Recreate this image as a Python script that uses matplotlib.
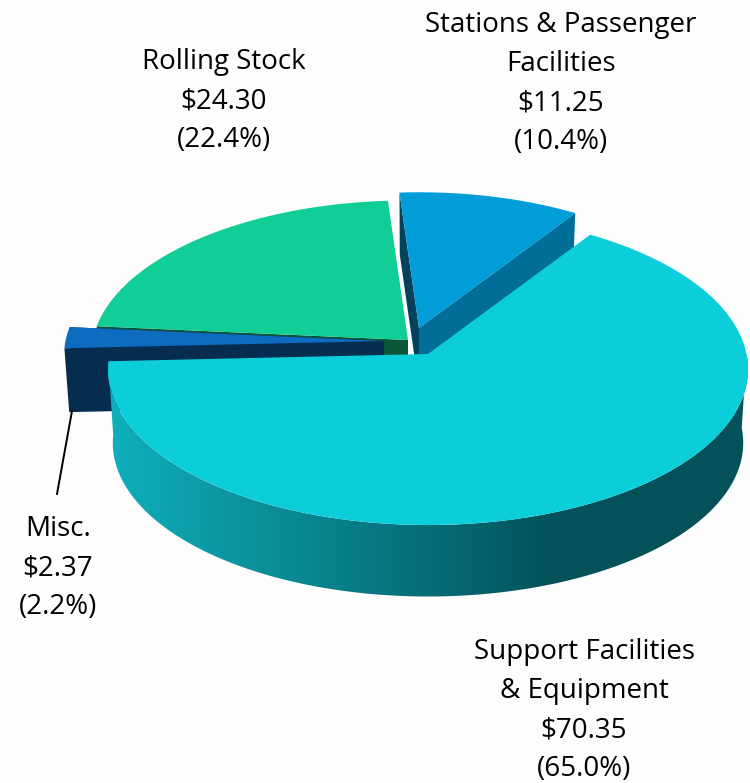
import numpy as np
from matplotlib import pyplot as plt
from matplotlib.patches import Polygon
from matplotlib.colors import to_rgb

# Дані
names = ['Stations & Passenger\nFacilities', 'Support Facilities\n& Equipment', 'Misc.', 'Rolling Stock']
values = [11.25, 70.35, 2.37, 24.30]
percents = [10.4, 65.0, 2.2, 22.4]
start_angle = 94.0

# Розміщення
center_x, center_y = 428, 354
A, B, k = 318.5, 154.5, 0.0968
bottom_scale = 0.985
offsets = [(-9, -26), (0, 0), (-44, -13), (-20, -14)]
radii = [0.96, 1.0, 1.0, 0.99]
depths = [60, 74, 64, 60]
top_colors = ['#009DD9', '#0CCEDA', '#0D6BC0', '#11CE96']
face_colors = ['#006E96', '#0CCEDA', '#062C50', '#0A5638']
back_colors = ['#04425C', '#0CCEDA', '#062C50', '#0A5638']
label_x = [561, 584, 58, 224]
label_y = [25, 652, 529, 62]
leader = ([72, 57], [411, 494])


# Точка на колі з перспективою
def project(angle, i, r=1.0, lower=False):
	a = np.radians(angle)
	x, y = r * radii[i] * np.cos(a), r * radii[i] * np.sin(a)
	w = 1 + k * y
	s = bottom_scale if lower else 1.0
	d = depths[i] if lower else 0
	return np.column_stack([center_x + offsets[i][0] + s * A * x / w, center_y + offsets[i][1] - s * B * y / w + d])


def top_poly(a0, a1, i):
	arc = project(np.linspace(a0, a1, 80), i)
	return np.vstack([project(np.array([0.0]), i, r=0.0), arc])


def face_poly(angle, i):
	an = np.array([angle])
	return np.vstack([project(an, i, r=0.0), project(an, i), project(an, i, lower=True), project(an, i, r=0.0, lower=True)])


def rim_color(x):
	left, right = np.array(to_rgb('#0EB0BC')), np.array(to_rgb('#03525A'))
	t = np.clip((x - 107) / (553 - 107), 0, 1)
	return left[None, :] + (right - left)[None, :] * t[:, None]


fig = plt.figure(figsize=(7.5, 7.83), dpi=100, facecolor='#FDFDFD')
ax = fig.add_axes([0, 0, 1, 1])
ax.axis('off')

# Кути секторів за годинниковою стрілкою
total = sum(values)
spans = [v / total * 360 for v in values]
starts = [start_angle - sum(spans[:i]) for i in range(len(values))]
ends = [s - d for s, d in zip(starts, spans)]
st, big, misc, roll = 0, 1, 2, 3

# Задні сектори
ax.add_patch(Polygon(face_poly(starts[st], st), color=back_colors[st], lw=0, zorder=1))
ax.add_patch(Polygon(face_poly(ends[st], st), color=face_colors[st], lw=0, zorder=1))
ax.add_patch(Polygon(top_poly(starts[st], ends[st], st), color=top_colors[st], lw=0, zorder=2))

ax.add_patch(Polygon(face_poly(starts[roll], roll), color=face_colors[roll], lw=0, zorder=3))
ax.add_patch(Polygon(face_poly(starts[misc], misc), color=face_colors[misc], lw=0, zorder=4))
ax.add_patch(Polygon(face_poly(ends[misc], misc), color=face_colors[misc], lw=0, zorder=4))
ax.add_patch(Polygon(top_poly(starts[misc], ends[misc], misc), color=top_colors[misc], lw=0, zorder=5))
ax.add_patch(Polygon(top_poly(starts[roll], ends[roll], roll), color=top_colors[roll], lw=0, zorder=6))

# Бічна стінка великого сектора, градієнт обрізаний по контуру
arc = np.linspace(ends[big], 0, 300)
side = Polygon(np.vstack([project(arc, big), project(arc[::-1], big, lower=True)]), transform=ax.transData, fc='none', lw=0)
ax.add_patch(side)
grad = rim_color(np.arange(0, 750, 1.0))[None, :, :]
im = ax.imshow(grad, extent=(0, 750, 783, 0), aspect='auto', zorder=7)
im.set_clip_path(side)
ax.add_patch(Polygon(top_poly(starts[big], ends[big], big), color=top_colors[big], lw=0, zorder=8))

# Виноска
ax.plot(leader[0], leader[1], color='black', lw=1.4, zorder=9)

# Підписи
for name, v, p, x, y in zip(names, values, percents, label_x, label_y):
	lines = name.split('\n') + [f'${v:.2f}', f'({p:.1f}%)']
	for i, line in enumerate(lines):
		ax.text(x, y + i * 39.1, line, ha='center', va='center', fontsize=20, family='Open Sans', color='black', zorder=10)

ax.set_xlim(0, 750)
ax.set_ylim(783, 0)

fig.savefig('out.png', dpi=100, facecolor=fig.get_facecolor())
